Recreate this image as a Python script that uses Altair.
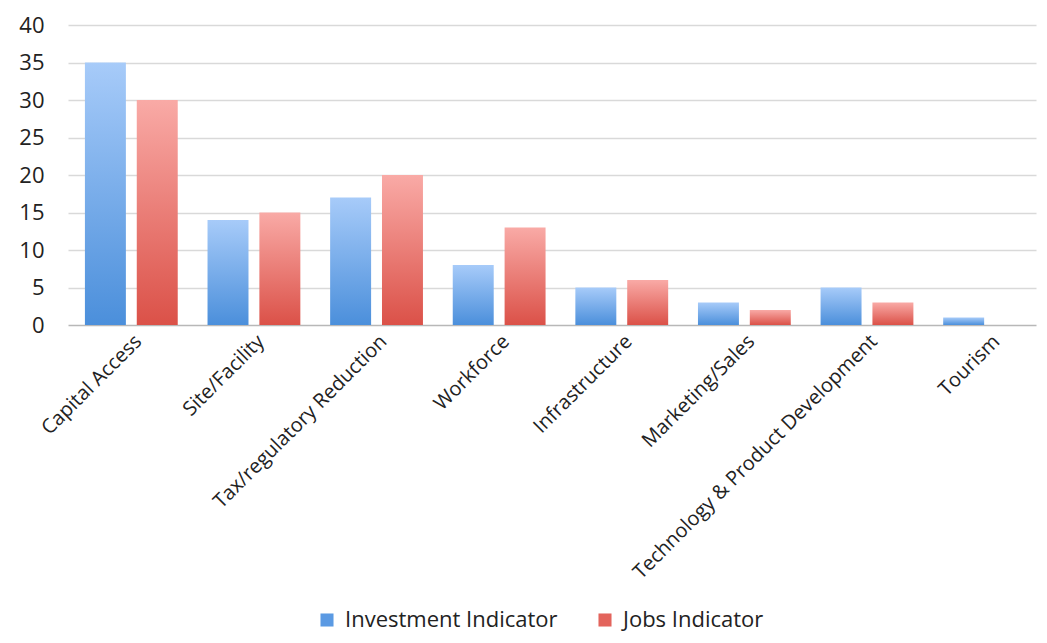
import altair as alt
import pandas as pd

categories = ["Capital Access", "Site/Facility", "Tax/regulatory Reduction", "Workforce",
              "Infrastructure", "Marketing/Sales", "Technology & Product Development", "Tourism"]
investment = [35, 14, 17, 8, 5, 3, 5, 1]
jobs = [30, 15, 20, 13, 6, 2, 3, 0]
series = ["Investment Indicator", "Jobs Indicator"]

rows = []
for c, i, j in zip(categories, investment, jobs):
    rows.append({"Category": c, "Series": series[0], "Value": i})
    rows.append({"Category": c, "Series": series[1], "Value": j})
df = pd.DataFrame(rows)

FONT = "Open Sans"

x_enc = alt.X("Category:N", sort=categories,
              scale=alt.Scale(paddingInner=0.243, paddingOuter=0.069, align=1),
              axis=alt.Axis(title=None, labelAngle=-45, labelAlign="right", labelBaseline="top",
                            labelFontSize=20, labelColor="#222", labelFont=FONT, ticks=False,
                            labelLimit=600, domain=False, grid=False, labelPadding=6))
y_enc = alt.Y("Value:Q", scale=alt.Scale(domain=[0, 40], nice=False),
              axis=alt.Axis(title=None, values=list(range(0, 41, 5)), labelFontSize=22,
                            labelColor="#222", labelFont=FONT, ticks=False, domain=False,
                            gridColor={"condition": {"test": "datum.value === 0", "value": "#b8b8b8"},
                                       "value": "#d9d9d9"},
                            gridWidth=1.5, labelPadding=24))
xo = alt.XOffset("Series:N", sort=series, scale=alt.Scale(paddingInner=0.21, paddingOuter=0))

base = alt.Chart(df)

legend_layer = base.mark_bar(opacity=0).encode(
    x=x_enc, y=y_enc, xOffset=xo,
    color=alt.Color("Series:N", sort=series,
                    scale=alt.Scale(domain=series, range=["#5b9ae3", "#e3645c"]),
                    legend=alt.Legend(title=None, orient="none", legendX=248, legendY=584,
                                      direction="horizontal",
                                      symbolType="square", symbolSize=170, symbolOpacity=1,
                                      symbolStrokeWidth=0, labelFontSize=22, labelFont=FONT,
                                      labelLimit=400, labelOffset=7,
                                      labelColor="#222", columnPadding=36))
)

blue_grad = alt.LinearGradient(gradient="linear", x1=0, y1=0, x2=0, y2=1,
                               stops=[alt.GradientStop(color="#a7cbf9", offset=0),
                                      alt.GradientStop(color="#4b8fdb", offset=1)])
red_grad = alt.LinearGradient(gradient="linear", x1=0, y1=0, x2=0, y2=1,
                              stops=[alt.GradientStop(color="#f9aaa6", offset=0),
                                     alt.GradientStop(color="#db5148", offset=1)])

inv_layer = base.mark_bar(fill=blue_grad).encode(x=x_enc, y=y_enc, xOffset=xo).transform_filter(
    alt.datum.Series == series[0])
job_layer = base.mark_bar(fill=red_grad).encode(x=x_enc, y=y_enc, xOffset=xo).transform_filter(
    alt.datum.Series == series[1])

chart = alt.layer(legend_layer, inv_layer, job_layer).properties(
    width=968, height=300, background="white",
    padding={"left": 10, "top": 6, "right": 0, "bottom": 2}
).configure_view(stroke=None, strokeWidth=0)

chart.save("out.html", embed_options={"renderer": "svg", "actions": False})
